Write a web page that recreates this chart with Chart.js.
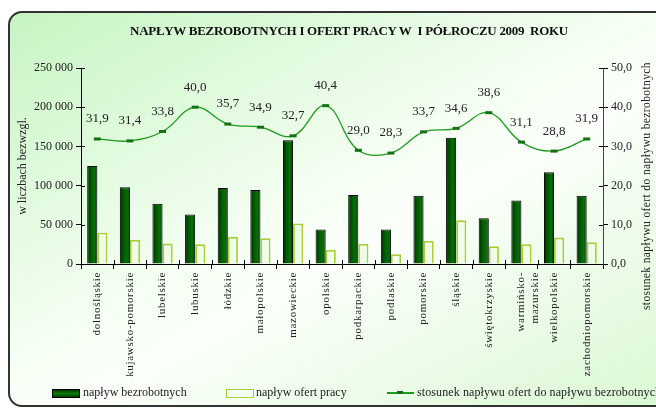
<!DOCTYPE html>
<html lang="pl">
<head>
<meta charset="utf-8">
<script src="https://cdn.jsdelivr.net/npm/chart.js@4"></script>
<style>
  html, body { margin: 0; padding: 0; background: #fff; overflow: hidden; }
  #wrap { position: relative; width: 656px; height: 408px; overflow: hidden; }
  #frame {
    position: absolute; left: 8px; top: 11px; width: 720px; height: 392px;
    border: 2px solid #333; border-radius: 14px;
    background: linear-gradient(to bottom right, #c6f4c2 0%, #f6fff4 45%, #fbfffa 55%, #d6f7cf 100%);
  }
  #chart { position: absolute; left: 0; top: 0; }
  .title {
    position: absolute; left: 0; top: 23px; width: 698px; text-align: center;
    font: bold 13px "Liberation Serif", serif; color: #111; letter-spacing: -0.3px;
  }
  .leg { position: absolute; top: 385px; font: 12px "Liberation Serif", serif; color: #222; white-space: nowrap; }
  .box { position: absolute; top: 389px; width: 26px; height: 7px; }
</style>
</head>
<body>
<div id="wrap">
  <div id="frame"></div>
  <canvas id="chart" width="680" height="408"></canvas>
  <div class="title">NAPŁYW BEZROBOTNYCH I OFERT PRACY W&nbsp; I PÓŁROCZU 2009&nbsp; ROKU</div>

  <div class="box" style="left:52px; background:linear-gradient(to bottom,#003a00,#0b7a0b 50%,#004000); border:1px solid #000;"></div>
  <div class="leg" style="left:83px;">napływ bezrobotnych</div>
  <div class="box" style="left:226px; background:#f3fff0; border:1.5px solid #a8d040;"></div>
  <div class="leg" style="left:256px;">napływ ofert pracy</div>
  <div style="position:absolute; left:387px; top:392px; width:27px; height:1.5px; background:#1f9a1f;"></div>
  <div style="position:absolute; left:397px; top:391px; width:6px; height:3px; background:#157015;"></div>
  <div class="leg" style="left:417px; letter-spacing:0.1px;">stosunek napływu ofert do napływu bezrobotnych</div>
</div>

<script>
const regions = ['dolnośląskie', 'kujawsko-pomorskie', 'lubelskie', 'lubuskie', 'łódzkie', 'małopolskie',
    'mazowieckie', 'opolskie', 'podkarpackie', 'podlaskie', 'pomorskie', 'śląskie', 'świętokrzyskie',
    ['warmińsko-', 'mazurskie'], 'wielkopolskie', 'zachodniopomorskie'];

const unemployedInflow = [125000, 98000, 77000, 63000, 97000, 94500, 158000, 44000,
    88000, 44000, 87000, 161000, 58500, 81000, 117000, 87000];

const offersInflow = [40000, 30800, 26000, 25200, 34600, 33000, 51700, 17800,
    25600, 12400, 29300, 55700, 22600, 25200, 33700, 27800];

const offersRatio = [31.9, 31.4, 33.8, 40.0, 35.7, 34.9, 32.7, 40.4,
    29.0, 28.3, 33.7, 34.6, 38.6, 31.1, 28.8, 31.9];

const leftTicks = [0, 50000, 100000, 150000, 200000, 250000];
const rightTicks = [0, 10, 20, 30, 40, 50];

const serif = 'Liberation Serif';
const plPct = v => v.toFixed(1).replace('.', ',');
const plThousands = v => String(v).replace(/\B(?=(\d{3})+(?!\d))/g, ' ');

// dark bars get a horizontal shade across their own width
function darkBarFill(context) {
    const chart = context.chart;
    const x = chart.scales.x;
    if (!x || context.dataIndex === undefined || !Number.isFinite(x.width) || x.width <= 0) return '#005a00';
    const step = x.width / regions.length;
    const w = step * 0.62 / 2;
    const c = x.getPixelForValue(context.dataIndex);
    if (!Number.isFinite(c)) return '#005a00';
    const g = chart.ctx.createLinearGradient(c - w, 0, c, 0);
    g.addColorStop(0, '#002800');
    g.addColorStop(0.35, '#005800');
    g.addColorStop(0.7, '#0a6e0a');
    g.addColorStop(1, '#003a00');
    return g;
}

const extras = {
    id: 'extras',
    afterLayout(chart) {
        // spaced-out category names
        const s = chart.scales.x;
        if (!s._spaced) {
            const orig = s.drawLabels.bind(s);
            s.drawLabels = function (area) {
                const c = this.ctx;
                c.save();
                c.letterSpacing = '0.7px';
                orig(area);
                c.restore();
            };
            s._spaced = true;
        }
    },
    afterDraw(chart) {
        const ctx = chart.ctx;
        const area = chart.chartArea;
        const y = chart.scales.y, y1 = chart.scales.y1, x = chart.scales.x;

        // inner halves of the tick marks
        ctx.save();
        ctx.strokeStyle = '#000';
        ctx.lineWidth = 1;
        ctx.beginPath();
        leftTicks.forEach(v => {
            const py = Math.round(y.getPixelForValue(v)) + 0.5;
            ctx.moveTo(area.left, py); ctx.lineTo(area.left + 4, py);
        });
        rightTicks.forEach(v => {
            const py = Math.round(y1.getPixelForValue(v)) + 0.5;
            ctx.moveTo(area.right - 4, py); ctx.lineTo(area.right, py);
        });
        for (let i = 1; i < regions.length; i++) {
            const px = Math.round(x.left + i * x.width / regions.length) + 0.5;
            ctx.moveTo(px, area.bottom - 4); ctx.lineTo(px, area.bottom);
        }
        ctx.stroke();

        // ratio values above the line
        ctx.fillStyle = '#222';
        ctx.font = '13px "' + serif + '"';
        ctx.textAlign = 'center';
        ctx.textBaseline = 'middle';
        chart.getDatasetMeta(2).data.forEach((pt, i) => {
            ctx.fillText(plPct(offersRatio[i]), pt.x, pt.y - 20);
        });

        // right axis title
        ctx.translate(647, 186);
        ctx.rotate(-Math.PI / 2);
        ctx.font = '11.5px "' + serif + '"';
        ctx.letterSpacing = '0.4px';
        ctx.fillText('stosunek napływu ofert do napływu bezrobotnych', 0, 0);
        ctx.restore();
    }
};

const tickGrid = { display: true, drawOnChartArea: false, color: '#000', tickLength: 5, lineWidth: 1 };

new Chart(document.getElementById('chart').getContext('2d'), {
    data: {
        labels: regions,
        datasets: [
            {
                type: 'bar', label: 'napływ bezrobotnych', data: unemployedInflow, yAxisID: 'y', order: 2,
                backgroundColor: darkBarFill, borderColor: '#000', borderWidth: 1,
                categoryPercentage: 0.62, barPercentage: 1
            },
            {
                type: 'bar', label: 'napływ ofert pracy', data: offersInflow, yAxisID: 'y', order: 2,
                backgroundColor: '#effde8', borderColor: '#a6cf3a', borderWidth: 1.8,
                categoryPercentage: 0.62, barPercentage: 1
            },
            {
                type: 'line', label: 'stosunek napływu ofert do napływu bezrobotnych', data: offersRatio,
                yAxisID: 'y1', order: 0, tension: 0.4,
                borderColor: '#1f9a1f', borderWidth: 1.3,
                pointStyle: 'line', pointRadius: 3.5, pointBorderWidth: 3,
                pointBorderColor: '#157015', pointBackgroundColor: '#157015'
            }
        ]
    },
    options: {
        responsive: false,
        animation: false,
        layout: { padding: { left: 10, right: 23, top: 68, bottom: 0 } },
        plugins: { legend: { display: false }, tooltip: { enabled: false } },
        scales: {
            x: {
                grid: Object.assign({ offset: true }, tickGrid),
                border: { color: '#000' },
                ticks: {
                    autoSkip: false, minRotation: 90, maxRotation: 90, padding: 3,
                    color: '#222', font: { family: serif, size: 11 }
                },
                afterFit: s => { s.height = 144; }
            },
            y: {
                position: 'left', min: 0, max: 250000,
                grid: tickGrid,
                border: { color: '#000' },
                afterBuildTicks: s => { s.ticks = leftTicks.map(v => ({ value: v })); },
                ticks: { color: '#222', font: { family: serif, size: 12 }, callback: v => plThousands(v) },
                title: {
                    display: true, text: 'w liczbach bezwzgl.', color: '#222',
                    font: { family: serif, size: 12 }, padding: { top: 6, bottom: 0 }
                },
                afterFit: s => { s.width = 71; }
            },
            y1: {
                position: 'right', min: 0, max: 50,
                grid: tickGrid,
                border: { color: '#444' },
                afterBuildTicks: s => { s.ticks = rightTicks.map(v => ({ value: v })); },
                ticks: { color: '#222', font: { family: serif, size: 12 }, callback: v => plPct(v) },
                afterFit: s => { s.width = 54; }
            }
        }
    },
    plugins: [extras]
});
</script>
</body>
</html>
